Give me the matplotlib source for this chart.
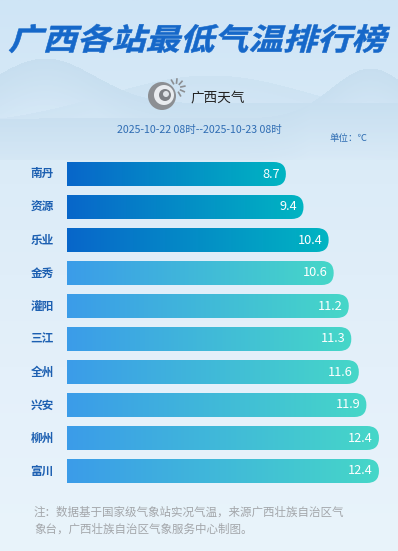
import numpy as np
import matplotlib
matplotlib.use("Agg")
import matplotlib.pyplot as plt
from matplotlib.patches import FancyBboxPatch, PathPatch, Circle
from matplotlib.textpath import TextPath
from matplotlib.font_manager import FontProperties
from matplotlib.colors import LinearSegmentedColormap
import matplotlib.transforms as mtransforms

plt.rcParams['font.family'] = ['Noto Sans CJK SC', 'DejaVu Sans']

# data
stations = ['南丹', '资源', '乐业', '金秀', '灌阳', '三江', '全州', '兴安', '柳州', '富川']
min_temps = [8.7, 9.4, 10.4, 10.6, 11.2, 11.3, 11.6, 11.9, 12.4, 12.4]
top_n = 3  # first three bars get the darker gradient

title = '广西各站最低气温排行榜'
period = '2025-10-22 08时--2025-10-23 08时'
unit = '单位：℃'
note_lines = ['注：数据基于国家级气象站实况气温，来源广西壮族自治区气',
              '象台，广西壮族自治区气象服务中心制图。']

W, H = 398, 551
fig = plt.figure(figsize=(W / 100, H / 100), dpi=100)

# background gradient
bg = fig.add_axes([0, 0, 1, 1])
bg.set_xlim(0, W)
bg.set_ylim(H, 0)
bg.axis('off')
bg_cmap = LinearSegmentedColormap.from_list('bg', ['#cfe5f6', '#dcecf8', '#e4f0fa', '#e9f4fb'])
grad = np.linspace(0, 1, 256).reshape(-1, 1)
bg.imshow(grad, cmap=bg_cmap, extent=(0, W, H, 0), aspect='auto', zorder=0)

# faint mountains behind the header, fading out downwards
xx, yy = np.meshgrid(np.arange(W), np.arange(160))
ridge1 = 58 + 45 * (1 - np.exp(-((xx - 45) / 70.0) ** 2))
ridge2 = 68 + 50 * (1 - np.exp(-((xx - 370) / 55.0) ** 2))
ridge3 = 75 + 50 * (1 - np.exp(-((xx - 210) / 150.0) ** 2))
alpha = np.zeros(xx.shape)
for ridge, a in [(ridge1, 0.45), (ridge2, 0.45), (ridge3, 0.25)]:
    inside = yy > ridge
    fade = np.clip(1 - (yy - ridge) / 60.0, 0, 1)
    alpha = np.maximum(alpha, np.where(inside, a * fade, 0))
mtn = np.zeros(xx.shape + (4,))
mtn[..., :3] = np.array([0xb8, 0xd4, 0xe8]) / 255.0
mtn[..., 3] = alpha
bg.imshow(mtn, extent=(0, W, 160, 0), aspect='auto', zorder=1)
bg.set_xlim(0, W)
bg.set_ylim(H, 0)

# title, bold with a forward slant
fp = FontProperties(family='Noto Sans CJK SC', weight='bold')
tp = TextPath((0, 0), title, size=40, prop=fp)
tp = mtransforms.Affine2D().skew_deg(14, 0).transform_path(tp)
ext = tp.get_extents()
x0, x1, y0, y1 = 9, 390, 24, 53
sx = (x1 - x0) / ext.width
sy = (y1 - y0) / ext.height
tr = (mtransforms.Affine2D().translate(-ext.x0, -ext.y0).scale(sx, -sy).translate(x0, y1))
bg.add_patch(PathPatch(tr.transform_path(tp), facecolor='#1668c9', edgecolor='#1668c9', lw=0.4, zorder=3))

# logo
cx, cy = 162, 96
bg.add_patch(Circle((cx, cy), 14, facecolor='#8c8f93', edgecolor='none', zorder=3))
bg.add_patch(Circle((cx + 2, cy - 1), 10, facecolor='#e9ecef', edgecolor='none', zorder=3))
bg.add_patch(Circle((cx + 3, cy - 1), 6, facecolor='#7d8085', edgecolor='none', zorder=3))
bg.add_patch(Circle((cx + 4, cy - 2), 3, facecolor='#dfe3e7', edgecolor='none', zorder=3))
for ang in np.linspace(-60, 120, 6):
    a = np.deg2rad(ang)
    bg.plot([cx + 14 + 5 * np.cos(a), cx + 14 + 9 * np.cos(a)],
            [cy - 8 - 5 * np.sin(a), cy - 8 - 9 * np.sin(a)], color='#8c8f93', lw=1.2, zorder=3)
bg.text(190, 98, '广西天气', fontsize=9.8, color='#222222', va='center', ha='left', zorder=3)

bg.text(199, 130, period, fontsize=7.6, color='#2f6db3', ha='center', va='center', zorder=3)
bg.text(367, 138, unit, fontsize=6.8, color='#2f6db3', ha='right', va='center', zorder=3)

for i, line in enumerate(note_lines):
    bg.text(34, 512 + i * 17.5, line, fontsize=8.3, color='#a3a6aa', ha='left', va='center', zorder=3)

# bar axes: left edge at x=67px, 25.16 px per degree, rows 33 px apart
px_per_unit = 25.16
row = 33
ax_left, ax_top = 67, 157.5
xmax = 13.0
ax = fig.add_axes([ax_left / W, 1 - (ax_top + row * len(stations)) / H,
                   xmax * px_per_unit / W, row * len(stations) / H])
ax.set_xlim(0, xmax)
ax.set_ylim(len(stations) - 0.5, -0.5)
ax.axis('off')
ax.patch.set_alpha(0)

bar_h = 24 / row
r_x = 12 / px_per_unit
aspect = (12 / row) / r_x

cm_dark = LinearSegmentedColormap.from_list('dark', ['#0866ca', '#00b5c2'])
cm_light = LinearSegmentedColormap.from_list('light', ['#3b9ce9', '#46d7c8'])
hgrad = np.linspace(0, 1, 256).reshape(1, -1)

for i, (name, v) in enumerate(zip(stations, min_temps)):
    patch = FancyBboxPatch((-1, i - bar_h / 2), v + 1, bar_h,
                           boxstyle='round,pad=0,rounding_size=%f' % r_x,
                           mutation_aspect=aspect, facecolor='none', edgecolor='none')
    ax.add_patch(patch)
    img = ax.imshow(hgrad, cmap=cm_dark if i < top_n else cm_light,
                    extent=(0, v, i + bar_h / 2, i - bar_h / 2), aspect='auto', zorder=2)
    img.set_clip_path(patch)
    ax.annotate('%.1f' % v, (v, i), xytext=(-6, 0), textcoords='offset pixels',
                ha='right', va='center', color='white', fontsize=9.2, zorder=3)
    ax.annotate(name, (0, i), xytext=(-25, 0), textcoords='offset pixels',
                ha='center', va='center', color='#1c5fb1', fontsize=8.4,
                fontweight='bold', annotation_clip=False, zorder=3)

ax.set_xlim(0, xmax)
ax.set_ylim(len(stations) - 0.5, -0.5)

fig.savefig('out.png', dpi=100)
